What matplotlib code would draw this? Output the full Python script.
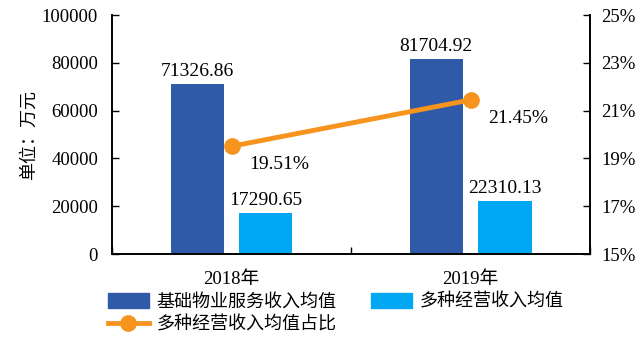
import matplotlib
matplotlib.use("Agg")
import matplotlib.pyplot as plt
from matplotlib.lines import Line2D
from matplotlib.patches import Patch
import numpy as np

years = ["2018年", "2019年"]
basic_income = [71326.86, 81704.92]
diverse_income = [17290.65, 22310.13]
diverse_share = [19.51, 21.45]

series_names = ["基础物业服务收入均值", "多种经营收入均值", "多种经营收入均值占比"]
y_label = "单位：万元"

c_dark = "#2F5AA7"
c_light = "#00A8F3"
c_line = "#F7941D"

cjk = ["Noto Sans CJK SC", "DejaVu Sans"]
num_font = "Liberation Serif"

fig = plt.figure(figsize=(6.4, 3.42), dpi=100)
ax = fig.add_axes([0.175, 0.257, 0.747, 0.699])
ax2 = ax.twinx()

x = np.arange(len(years))
w = 0.222
off = 0.144
ax.bar(x - off, basic_income, width=w, color=c_dark, zorder=2)
ax.bar(x + off, diverse_income, width=w, color=c_light, zorder=2)

ax.set_xlim(-0.5, 1.5)
ax.set_ylim(0, 100000)
ax.set_yticks(np.arange(0, 100001, 20000))
ax.set_yticklabels([f"{v:d}" for v in range(0, 100001, 20000)], family=num_font, fontsize=13.5)
ax.set_xticks([-0.5, 0.5, 1.5])
ax.set_xticklabels([])
ax.set_xticks(x, minor=True)
ax.set_xticklabels(years, minor=True, family=[num_font, "Noto Sans CJK SC"], fontsize=13.5)
ax.tick_params(axis="x", which="minor", length=0, pad=12)
ax.tick_params(axis="x", which="major", direction="in", length=5, width=1)
ax.tick_params(axis="y", direction="in", length=5, width=1, pad=10)
ax.set_ylabel(y_label, family=cjk, fontsize=13, labelpad=3)

for xi, v in zip(x - off, basic_income):
    ax.text(xi, v + 1500, f"{v:.2f}", ha="center", va="bottom", family=num_font, fontsize=14)
for xi, v in zip(x + off, diverse_income):
    ax.text(xi, v + 1500, f"{v:.2f}", ha="center", va="bottom", family=num_font, fontsize=14)

ax2.plot(x, diverse_share, color=c_line, lw=3.5, marker="o", ms=11, zorder=3)
ax2.set_ylim(15, 25)
ax2.set_yticks(np.arange(15, 26, 2))
ax2.set_yticklabels([f"{v}%" for v in range(15, 26, 2)], family=num_font, fontsize=13.5)
ax2.tick_params(axis="y", direction="in", length=5, width=1, pad=8)
for xi, v in zip(x, diverse_share):
    ax2.annotate(f"{v:.2f}%", (xi, v), xytext=(13, -7), textcoords="offset points",
                 ha="left", va="top", family=num_font, fontsize=14)

for a in (ax, ax2):
    a.spines["top"].set_visible(False)
    for s in ("left", "right", "bottom"):
        a.spines[s].set_color("black")
        a.spines[s].set_linewidth(1.2)

handles = [
    Patch(color=c_dark),
    Line2D([0], [0], color=c_line, lw=3.5, marker="o", ms=11),
    Patch(color=c_light),
]
labels = [series_names[0], series_names[2], series_names[1]]
fig.legend(handles, labels, ncol=2, loc="upper left", bbox_to_anchor=(0.168, 0.145),
           frameon=False, prop={"family": cjk, "size": 13}, handlelength=2.3,
           handleheight=0.9, handletextpad=0.4, columnspacing=1.9, labelspacing=0.3,
           borderaxespad=0, borderpad=0)

fig.savefig("out.png", dpi=100)
